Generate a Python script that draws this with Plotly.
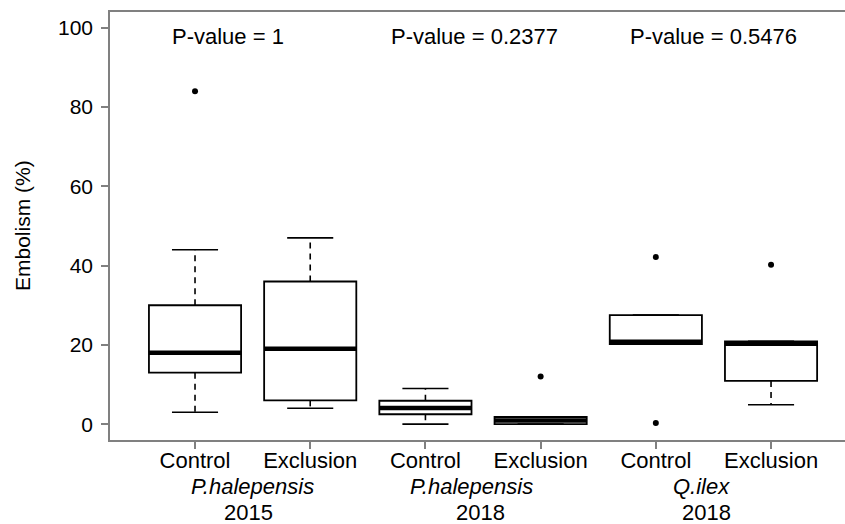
import plotly.graph_objects as go

# ---- data ----
treatments = ["Control", "Exclusion", "Control", "Exclusion", "Control", "Exclusion"]
positions = [1, 2, 3, 4, 5, 6]
q1 = [13, 6, 2.5, 0, 20.2, 10.9]
median = [18, 19, 4.1, 0.9, 20.8, 20.3]
q3 = [30, 36, 5.9, 1.8, 27.5, 20.9]
whisker_low = [3, 4, 0, 0, 20.2, 4.9]
whisker_high = [44, 47, 9, 1.8, 27.5, 20.9]
outliers = [[84], [], [], [12], [0.3, 42.2], [40.2]]

species = ["P.halepensis", "P.halepensis", "Q.ilex"]
species_x = [1.5, 3.4, 5.4]
years = ["2015", "2018", "2018"]
years_x = [1.46, 3.48, 5.44]
pvalues = ["P-value = 1", "P-value = 0.2377", "P-value = 0.5476"]
pvalue_x = [1.29, 3.43, 5.5]
pvalue_y = 97.7

FONT = "Liberation Sans, Arial, sans-serif"
BOX_HALF = 0.4
CAP_HALF = 0.2
AXIS_COL = "#808080"

fig = go.Figure()

# boxes (library box traces with precomputed stats; whiskers drawn separately as dashed)
for i, x in enumerate(positions):
    fig.add_trace(go.Box(
        x=[x], q1=[q1[i]], median=[median[i]], q3=[q3[i]],
        lowerfence=[q1[i]], upperfence=[q3[i]],
        width=2 * BOX_HALF, fillcolor="white",
        line=dict(color="black", width=1.8),
        boxpoints=False, showlegend=False, hoverinfo="skip",
    ))

for i, x in enumerate(positions):
    # dashed whiskers
    fig.add_trace(go.Scatter(
        x=[x, x, None, x, x], y=[q3[i], whisker_high[i], None, q1[i], whisker_low[i]],
        mode="lines", line=dict(color="black", width=1.6, dash="6px,5px"),
        showlegend=False, hoverinfo="skip"))
    # caps
    fig.add_trace(go.Scatter(
        x=[x - CAP_HALF, x + CAP_HALF, None, x - CAP_HALF, x + CAP_HALF],
        y=[whisker_high[i], whisker_high[i], None, whisker_low[i], whisker_low[i]],
        mode="lines", line=dict(color="black", width=1.6),
        showlegend=False, hoverinfo="skip"))
    # thick median
    fig.add_trace(go.Scatter(
        x=[x - BOX_HALF, x + BOX_HALF], y=[median[i], median[i]],
        mode="lines", line=dict(color="black", width=4.5),
        showlegend=False, hoverinfo="skip"))
    # outliers
    if outliers[i]:
        fig.add_trace(go.Scatter(
            x=[x] * len(outliers[i]), y=outliers[i], mode="markers",
            marker=dict(color="black", size=6),
            showlegend=False, hoverinfo="skip"))

annotations = []
for t, xv in zip(pvalues, pvalue_x):
    annotations.append(dict(x=xv, y=pvalue_y, xref="x", yref="y", text=t,
                            showarrow=False, xanchor="center", yanchor="middle",
                            font=dict(family=FONT, size=22, color="black")))
for t, xv in zip(species, species_x):
    annotations.append(dict(x=xv, y=-0.1075, xref="x", yref="paper", text="<i>" + t + "</i>",
                            showarrow=False, xanchor="center", yanchor="middle",
                            font=dict(family=FONT, size=22, color="black")))
for t, xv in zip(years, years_x):
    annotations.append(dict(x=xv, y=-0.1685, xref="x", yref="paper", text=t,
                            showarrow=False, xanchor="center", yanchor="middle",
                            font=dict(family=FONT, size=22, color="black")))
annotations.append(dict(x=(22 - 110) / 735, y=0.5, xref="paper", yref="paper",
                        text="Embolism (%)", textangle=-90, showarrow=False,
                        xanchor="center", yanchor="middle",
                        font=dict(family=FONT, size=21, color="black")))

fig.update_layout(
    width=845, height=524,
    margin=dict(l=110, r=0, t=12, b=84),
    paper_bgcolor="white", plot_bgcolor="white",
    font=dict(family=FONT, size=21, color="black"),
    annotations=annotations,
    xaxis=dict(range=[0.262, 6.642], tickvals=positions, ticktext=treatments,
               showgrid=False, zeroline=False, showline=True, linecolor=AXIS_COL,
               linewidth=1.5, mirror=True, ticks="outside", ticklen=7,
               tickcolor=AXIS_COL, tickwidth=1.5, ticklabelstandoff=-7,
               tickfont=dict(family=FONT, size=22, color="black")),
    yaxis=dict(range=[-4, 104], tickvals=[0, 20, 40, 60, 80, 100],
               showgrid=False, zeroline=False, showline=True, linecolor=AXIS_COL,
               linewidth=1.5, ticks="outside", ticklen=7, tickcolor=AXIS_COL,
               tickwidth=1.5, ticklabelstandoff=4,
               tickfont=dict(family=FONT, size=21, color="black")),
)

fig.write_html("out.html")
